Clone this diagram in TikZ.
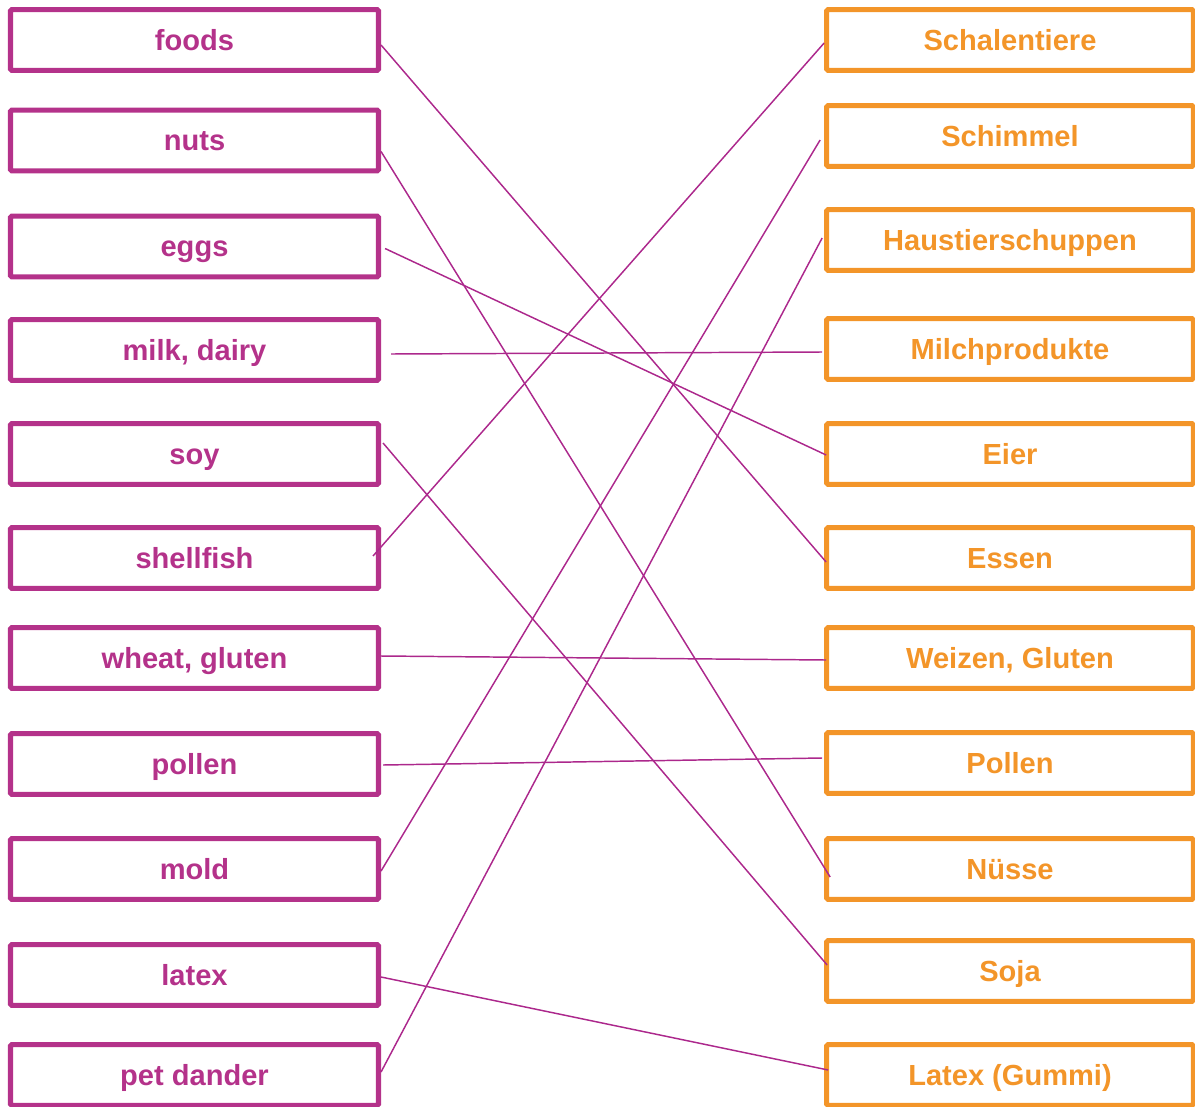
\documentclass[tikz,border=0pt]{standalone}
\usepackage{fontspec}
\setmainfont{Liberation Sans}
\definecolor{lpurple}{RGB}{180,50,138}
\definecolor{rorange}{RGB}{243,149,41}
\definecolor{linkc}{RGB}{172,40,140}
\begin{document}
\begin{tikzpicture}[x=0.75pt,y=-0.75pt,
  lbox/.style={draw=lpurple,line width=3.8pt,rounded corners=1pt,minimum width=276pt,minimum height=45.5pt,inner sep=0pt,
    text height=15.4pt,text depth=0pt,
    text=lpurple,font=\fontsize{21.8}{26}\selectfont\bfseries},
  rbox/.style={draw=rorange,line width=3.8pt,rounded corners=1pt,minimum width=275pt,minimum height=45.5pt,inner sep=0pt,
    text height=15.4pt,text depth=0pt,
    text=rorange,font=\fontsize{21.8}{26}\selectfont\bfseries},
  link/.style={draw=linkc,line width=1.1pt}]
\useasboundingbox (0,0) rectangle (1195,1106);
% left column
\node[lbox] (foods) at (194.5,40) {foods};
\node[lbox] (nuts) at (194.5,140.5) {nuts};
\node[lbox] (eggs) at (194.5,246.5) {eggs};
\node[lbox] (milk) at (194.5,350) {milk, dairy};
\node[lbox] (soy) at (194.5,454) {soy};
\node[lbox] (shellfish) at (194.5,558) {shellfish};
\node[lbox] (wheat) at (194.5,658) {wheat, gluten};
\node[lbox] (pollen) at (194.5,764) {pollen};
\node[lbox] (mold) at (194.5,869) {mold};
\node[lbox] (latex) at (194.5,975) {latex};
\node[lbox] (pet) at (194.5,1075) {pet dander};
% right column
\node[rbox] (schal) at (1010,40) {Schalentiere};
\node[rbox] (schim) at (1010,136) {Schimmel};
\node[rbox] (haus) at (1010,240) {Haustierschuppen};
\node[rbox] (milch) at (1010,349) {Milchprodukte};
\node[rbox] (eier) at (1010,454) {Eier};
\node[rbox] (essen) at (1010,558) {Essen};
\node[rbox] (weizen) at (1010,658) {Weizen, Gluten};
\node[rbox] (rpollen) at (1010,763) {Pollen};
\node[rbox] (nuesse) at (1010,869) {Nüsse};
\node[rbox] (soja) at (1010,971) {Soja};
\node[rbox] (gummi) at (1010,1075) {Latex (Gummi)};
% connectors
\draw[link] ([shift={(0,5)}]foods.east) -- ([shift={(2,4)}]essen.west);
\draw[link] ([shift={(0,11)}]nuts.east) -- ([shift={(6,8)}]nuesse.west);
\draw[link] ([shift={(4,2)}]eggs.east) -- ([shift={(2,1)}]eier.west);
\draw[link] ([shift={(10,4)}]milk.east) -- ([shift={(-2,3)}]milch.west);
\draw[link] ([shift={(2,-11)}]soy.east) -- ([shift={(3,-6)}]soja.west);
\draw[link] ([shift={(-8,-2)}]shellfish.east) -- ([shift={(0,3)}]schal.west);
\draw[link] ([shift={(0,-2)}]wheat.east) -- ([shift={(2,2)}]weizen.west);
\draw[link] ([shift={(2,1)}]pollen.east) -- ([shift={(-2,-5)}]rpollen.west);
\draw[link] ([shift={(0,2)}]mold.east) -- ([shift={(-4,4)}]schim.west);
\draw[link] ([shift={(0,2)}]latex.east) -- ([shift={(4,-5)}]gummi.west);
\draw[link] ([shift={(0,-3)}]pet.east) -- ([shift={(-2,-2)}]haus.west);
\end{tikzpicture}
\end{document}
